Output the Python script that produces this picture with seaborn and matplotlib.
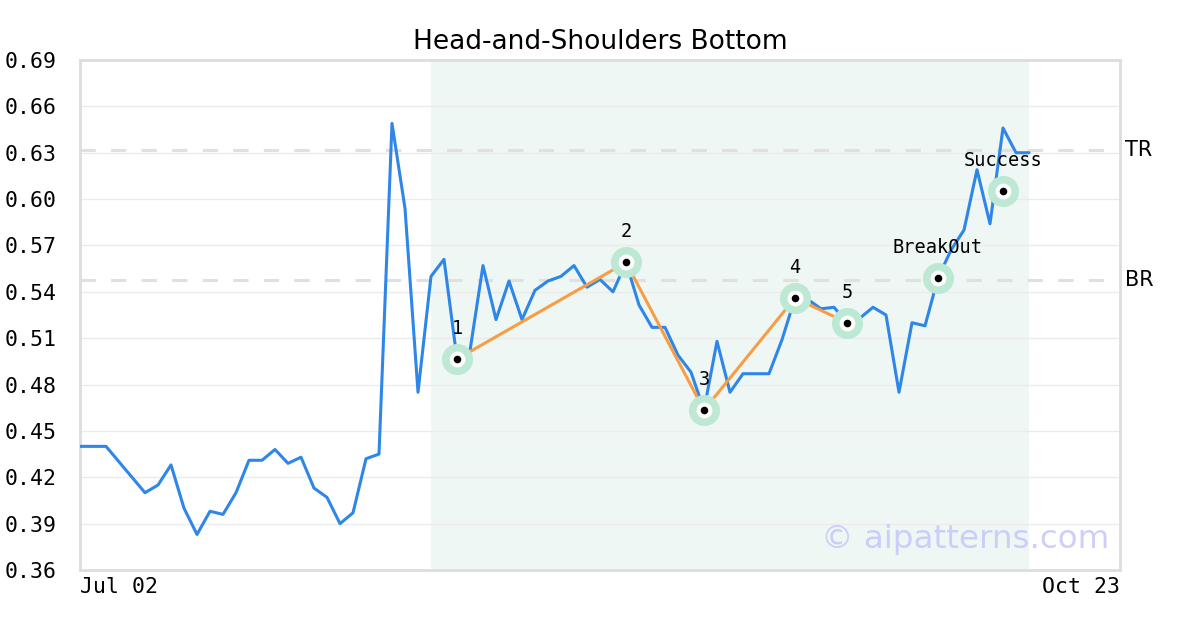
import numpy as np
import pandas as pd
import matplotlib
matplotlib.use('Agg')
import matplotlib.pyplot as plt
import seaborn as sns

# price series (one value per trading day)
prices = [0.440, 0.440, 0.440, 0.430, 0.420, 0.410, 0.415, 0.428, 0.400, 0.383,
          0.398, 0.396, 0.410, 0.431, 0.431, 0.438, 0.429, 0.433, 0.413, 0.407,
          0.390, 0.397, 0.432, 0.435, 0.649, 0.594, 0.475, 0.550, 0.561, 0.4965,
          0.502, 0.557, 0.522, 0.547, 0.522, 0.541, 0.547, 0.550, 0.557, 0.543,
          0.548, 0.540, 0.559, 0.5315, 0.517, 0.517, 0.499, 0.488, 0.4635, 0.508,
          0.475, 0.487, 0.487, 0.487, 0.509, 0.536, 0.535, 0.529, 0.530, 0.520,
          0.523, 0.530, 0.525, 0.475, 0.520, 0.518, 0.549, 0.567, 0.580, 0.619,
          0.584, 0.646, 0.630, 0.630]

# pattern pivots
pivot_idx = [29, 42, 48, 55, 59]
pivot_val = [0.4965, 0.559, 0.4635, 0.536, 0.520]
pivot_lbl = ['1', '2', '3', '4', '5']

# signal points
signal_idx = [66, 71]
signal_val = [0.549, 0.605]
signal_lbl = ['BreakOut', 'Success']

tr_level = 0.632
br_level = 0.5475
pattern_start, pattern_end = 27, 73
x_max = 80
date_labels = ['Jul 02', 'Oct 23']
y_ticks = [0.36, 0.39, 0.42, 0.45, 0.48, 0.51, 0.54, 0.57, 0.60, 0.63, 0.66, 0.69]

df = pd.DataFrame({'day': np.arange(len(prices)), 'price': prices})
piv = pd.DataFrame({'day': pivot_idx, 'price': pivot_val})

sns.set_style('white')
plt.rcParams['font.family'] = ['DejaVu Sans']

fig = plt.figure(figsize=(12, 6.3), dpi=100)
ax = fig.add_axes([80 / 1200, 1 - 570 / 630, 1040 / 1200, 510 / 630])

ax.axvspan(pattern_start, pattern_end, color='#eef7f3', zorder=0, lw=0)
for y in y_ticks:
    ax.axhline(y, color='#ebebeb', lw=1, zorder=1)

for lvl, name in [(tr_level, 'TR'), (br_level, 'BR')]:
    ax.axhline(lvl, color='#e0e0e0', lw=2.2, dashes=(5, 5), zorder=2)
    ax.text(x_max + 0.4, lvl, name, fontsize=15, va='center', ha='left', color='black')

sns.lineplot(data=df, x='day', y='price', ax=ax, color='#2e86e8', lw=2.2, zorder=3)
sns.lineplot(data=piv, x='day', y='price', ax=ax, color='#f79d45', lw=2.2, zorder=4)

all_idx = pivot_idx + signal_idx
all_val = pivot_val + signal_val
ax.scatter(all_idx, all_val, s=500, color='#bde8d3', zorder=5, lw=0)
ax.scatter(all_idx, all_val, s=130, color='white', zorder=6, lw=0)
ax.scatter(all_idx, all_val, s=30, color='black', zorder=7, lw=0)

for x, y, t in zip(all_idx, all_val, pivot_lbl + signal_lbl):
    ax.annotate(t, (x, y), xytext=(0, 21), textcoords='offset pixels',
                ha='center', va='bottom', fontsize=13.4, family='DejaVu Sans Mono',
                color='black', zorder=8)

ax.text(0.990, 0.03, '\u00a9 aipatterns.com', transform=ax.transAxes, ha='right', va='bottom',
        fontsize=23.4, color='#c9c9fb', alpha=0.9, zorder=9)

ax.set_xlim(0, x_max)
ax.set_ylim(0.36, 0.69)
ax.set_yticks(y_ticks)
ax.set_yticklabels([f'{v:.2f}' for v in y_ticks], family='DejaVu Sans Mono', fontsize=15.5)
ax.set_xticks([0, x_max])
ax.set_xticklabels(date_labels, family='DejaVu Sans Mono', fontsize=15.5)
xt = ax.get_xticklabels()
xt[0].set_ha('left')
xt[1].set_ha('right')
ax.tick_params(axis='both', length=0, pad=5, labelcolor='black')
ax.tick_params(axis='y', pad=17)
ax.set_xlabel('')
ax.set_ylabel('')
for s in ax.spines.values():
    s.set_color('#dddddd')
    s.set_linewidth(2)

ax.set_title('Head-and-Shoulders Bottom', fontsize=19, pad=8, color='black')

fig.savefig('out.png', dpi=100)
